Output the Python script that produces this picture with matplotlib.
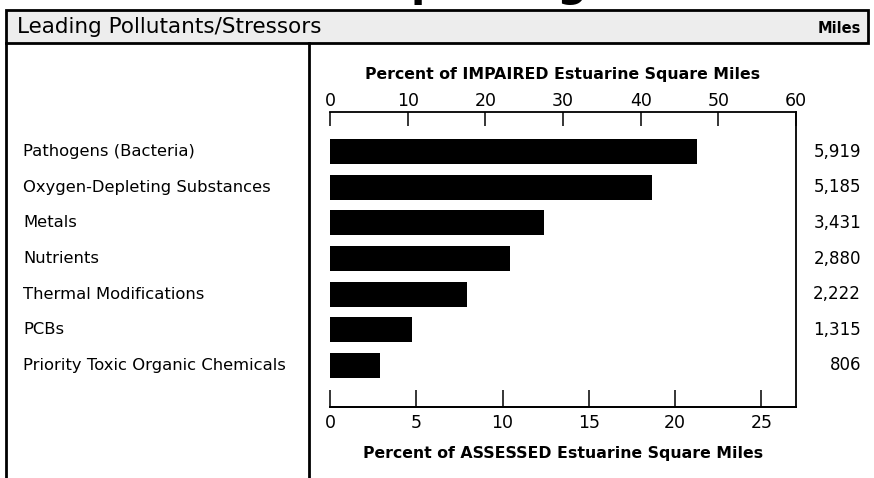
import matplotlib.pyplot as plt
from matplotlib.patches import Rectangle

# data
pollutants = ['Pathogens (Bacteria)', 'Oxygen-Depleting Substances', 'Metals',
              'Nutrients', 'Thermal Modifications', 'PCBs',
              'Priority Toxic Organic Chemicals']
pct_impaired = [47.3, 41.5, 27.5, 23.2, 17.7, 10.6, 6.4]
miles = [5919, 5185, 3431, 2880, 2222, 1315, 806]
assessed_per_impaired = 0.45
top_ticks = [0, 10, 20, 30, 40, 50, 60]
bottom_ticks = [0, 5, 10, 15, 20, 25]

W, H = 874, 478
plt.rcParams['font.family'] = ['DejaVu Sans']
fig = plt.figure(figsize=(W / 100, H / 100), dpi=100)

# overlay in pixel coords for the frame
ov = fig.add_axes([0, 0, 1, 1])
ov.set_xlim(0, W)
ov.set_ylim(H, 0)
ov.axis('off')

ov.add_patch(Rectangle((6, 10), 862, 33, facecolor='#ededed', edgecolor='black', lw=2))
ov.plot([6, 6], [43, H], color='black', lw=2)
ov.plot([309, 309], [43, H], color='black', lw=2)
ov.text(17, 27, 'Leading Pollutants/Stressors', fontsize=15.5, va='center', ha='left')
ov.text(861, 28, 'Miles', fontsize=10.5, fontweight='bold', va='center', ha='right')
ov.text(470, -4, 'Impacting', fontsize=30, fontweight='bold', va='baseline', ha='center',
        clip_on=False)

ys = list(range(len(pollutants)))

ax = fig.add_axes([330 / W, 1 - 407 / H, (796 - 330) / W, (407 - 112) / H])
ax.barh(ys, pct_impaired, height=0.7, color='black')
ax.set_xlim(0, 60)
ax.set_ylim(6 + 1.17, -1.115)
ax.set_yticks([])
ax.spines['left'].set_visible(False)
for s in ['top', 'right', 'bottom']:
    ax.spines[s].set_linewidth(1.3)
ax.xaxis.tick_top()
ax.set_xticks(top_ticks)
ax.tick_params(axis='x', direction='in', length=10, width=1.1, labelsize=12.5, pad=1.5)
ax.set_xlabel('Percent of IMPAIRED Estuarine Square Miles', fontsize=11.3,
              fontweight='bold', labelpad=9)
ax.xaxis.set_label_position('top')

sec = ax.secondary_xaxis('bottom', functions=(lambda x: x * assessed_per_impaired,
                                              lambda x: x / assessed_per_impaired))
sec.set_xticks(bottom_ticks)
sec.tick_params(direction='in', length=12, width=1.1, labelsize=12.5, pad=5)
sec.spines['bottom'].set_linewidth(1.3)
sec.set_xlabel('Percent of ASSESSED Estuarine Square Miles', fontsize=11.3,
               fontweight='bold', labelpad=10)

# category labels and miles, in axes-y data coords
trans_l = ax.get_yaxis_transform()
for y, name, m in zip(ys, pollutants, miles):
    ax.text((23 - 330) / (796 - 330), y, name, transform=trans_l, ha='left', va='center',
            fontsize=11.8, clip_on=False)
    ax.text((861 - 330) / (796 - 330), y, f'{m:,}', transform=trans_l, ha='right',
            va='center', fontsize=12, clip_on=False)

fig.savefig('out.png', dpi=100)
